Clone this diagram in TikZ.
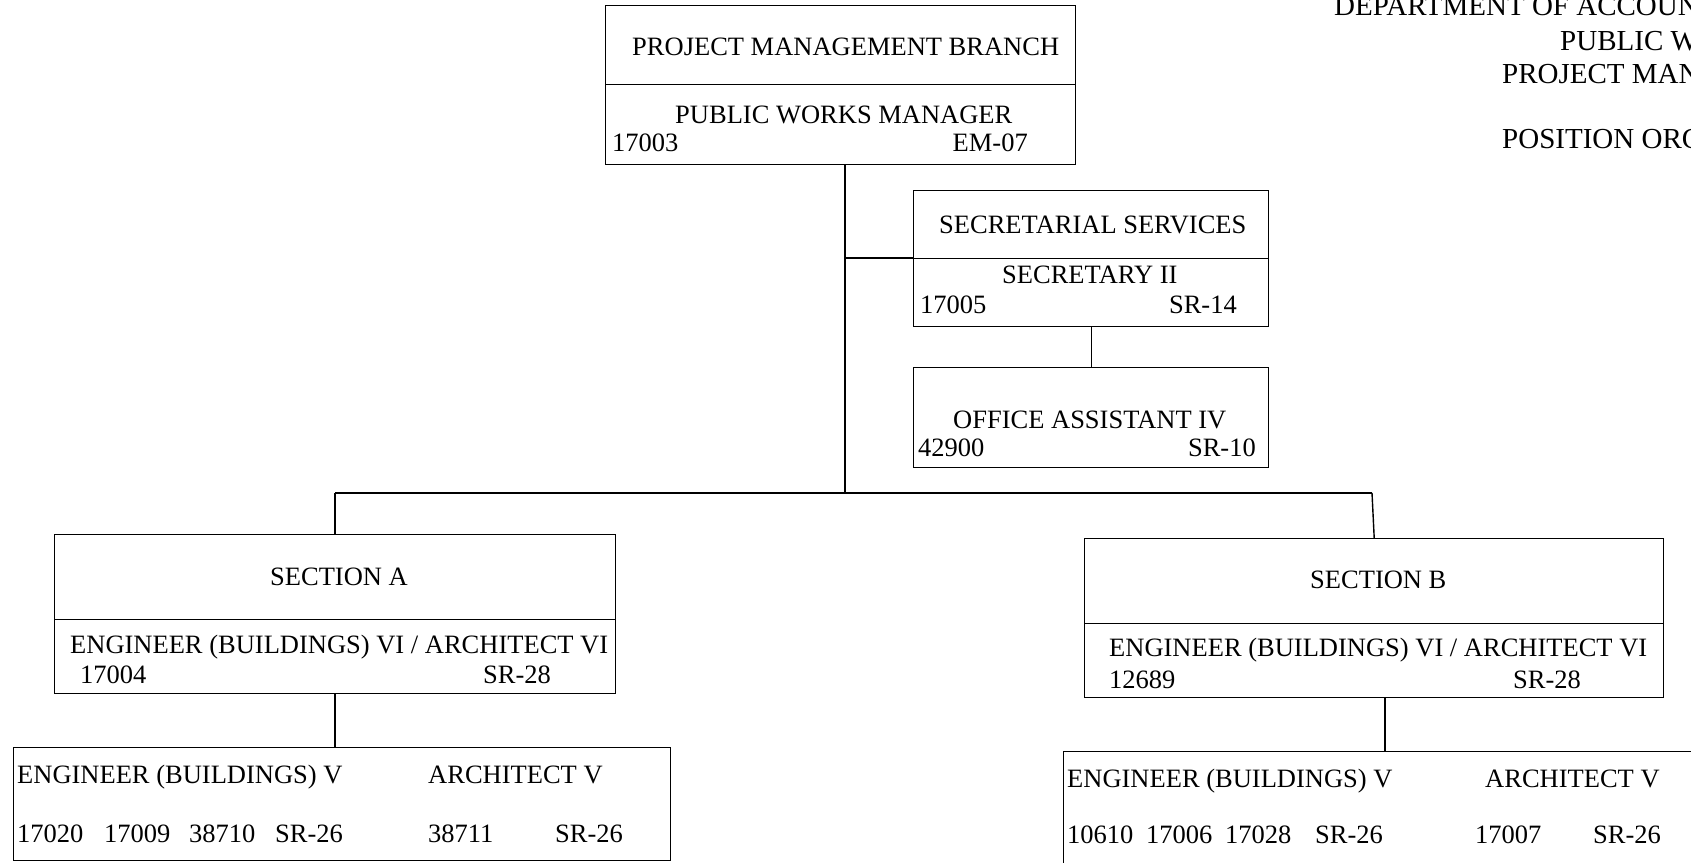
\documentclass[tikz,border=0pt]{standalone}
\usepackage{fontspec}
\setmainfont{Liberation Serif}
\begin{document}
\begin{tikzpicture}[x=1pt,y=-1pt,
  cell/.style={draw, line width=1.4pt, rectangle, inner sep=0pt, anchor=north west},
  txt/.style={inner sep=0pt, anchor=base west, font=\fontsize{26.5}{30}\selectfont},
  txr/.style={inner sep=0pt, anchor=base east, font=\fontsize{26.5}{30}\selectfont},
  ttl/.style={inner sep=0pt, anchor=base west, font=\fontsize{29}{33}\selectfont},
  link/.style={line width=1.4pt}]
\useasboundingbox (0,0) rectangle (1691,862);
\clip (0,0) rectangle (1691,862);
\fill[white] (0,0) rectangle (1691,862);

% title block (cut off at right)
\node[ttl] (h1) at (1334,16) {DEPARTMENT OF ACCOUN};
\node[ttl] (h2) at (1560,50) {PUBLIC W};
\node[ttl] (h3) at (1502,83) {PROJECT MAN};
\node[ttl] (h4) at (1502,148) {POSITION ORG};

% top box
\node[cell, minimum width=470pt, minimum height=79pt] (pmT) at (605,5) {};
\node[cell, minimum width=470pt, minimum height=80pt] (pmB) at (605,84) {};
\node[txt] (t1) at (632,55) {PROJECT MANAGEMENT BRANCH};
\node[txt] (t2) at (675,123) {PUBLIC WORKS MANAGER};
\node[txt] (t3) at (612,151) {17003};
\node[txr] (t4) at (1028,151) {EM-07};

% secretarial
\node[cell, minimum width=355pt, minimum height=68pt] (seT) at (913,190) {};
\node[cell, minimum width=355pt, minimum height=68pt] (seB) at (913,258) {};
\node[txt] (t5) at (939,233) {SECRETARIAL SERVICES};
\node[txt] (t6) at (1002,283) {SECRETARY II};
\node[txt] (t7) at (920,313) {17005};
\node[txr] (t8) at (1237,313) {SR-14};

% office assistant
\node[cell, minimum width=355pt, minimum height=100pt] (oa) at (913,367) {};
\node[txt] (t9) at (953,428) {OFFICE ASSISTANT IV};
\node[txt] (t10) at (918,456) {42900};
\node[txr] (t11) at (1256,456) {SR-10};

% section A
\node[cell, minimum width=561pt, minimum height=85pt] (aT) at (54,534) {};
\node[cell, minimum width=561pt, minimum height=74pt] (aB) at (54,619) {};
\node[txt] (t12) at (270,585) {SECTION A};
\node[txt] (t13) at (70,653) {ENGINEER (BUILDINGS) VI / ARCHITECT VI};
\node[txt] (t14) at (80,683) {17004};
\node[txt] (t15) at (483,683) {SR-28};

% bottom box A
\node[cell, minimum width=657pt, minimum height=113pt] (ea) at (13,747) {};
\node[txt] (t16) at (17,783) {ENGINEER (BUILDINGS) V};
\node[txt] (t17) at (428,783) {ARCHITECT V};
\node[txt] (t18) at (17,842) {17020};
\node[txt] (t19) at (104,842) {17009};
\node[txt] (t20) at (189,842) {38710};
\node[txt] (t21) at (275,842) {SR-26};
\node[txt] (t22) at (428,842) {38711};
\node[txt] (t23) at (555,842) {SR-26};

% section B
\node[cell, minimum width=579pt, minimum height=85pt] (bT) at (1084,538) {};
\node[cell, minimum width=579pt, minimum height=74pt] (bB) at (1084,623) {};
\node[txt] (t24) at (1310,588) {SECTION B};
\node[txt] (t25) at (1109,656) {ENGINEER (BUILDINGS) VI / ARCHITECT VI};
\node[txt] (t26) at (1109,688) {12689};
\node[txt] (t27) at (1513,688) {SR-28};

% bottom box B (runs off the page)
\node[cell, minimum width=700pt, minimum height=160pt] (eb) at (1063,751) {};
\node[txt] (t28) at (1067,787) {ENGINEER (BUILDINGS) V};
\node[txt] (t29) at (1485,787) {ARCHITECT V};
\node[txt] (t30) at (1067,843) {10610};
\node[txt] (t31) at (1146,843) {17006};
\node[txt] (t32) at (1225,843) {17028};
\node[txt] (t33) at (1315,843) {SR-26};
\node[txt] (t34) at (1475,843) {17007};
\node[txt] (t35) at (1593,843) {SR-26};

% connectors
\coordinate (busL) at (335,493);
\coordinate (busM) at (845,493);
\coordinate (busR) at (1372,493);
\coordinate (jb) at (1385,697);
\draw[link] (busM |- pmB.south) -- (busM);
\draw[link] (busM |- seB.north west) -- (seB.north west);
\draw[link] (seB.south) -- (oa.north);
\draw[link] (busL) -- (busR);
\draw[link] (busL) -- (busL |- aT.north);
\draw[link] (busR) -- (bT.north);
\draw[link] (busL |- aB.south) -- (busL |- ea.north);
\draw[link] (jb) -- (jb |- eb.north);
\end{tikzpicture}
\end{document}
